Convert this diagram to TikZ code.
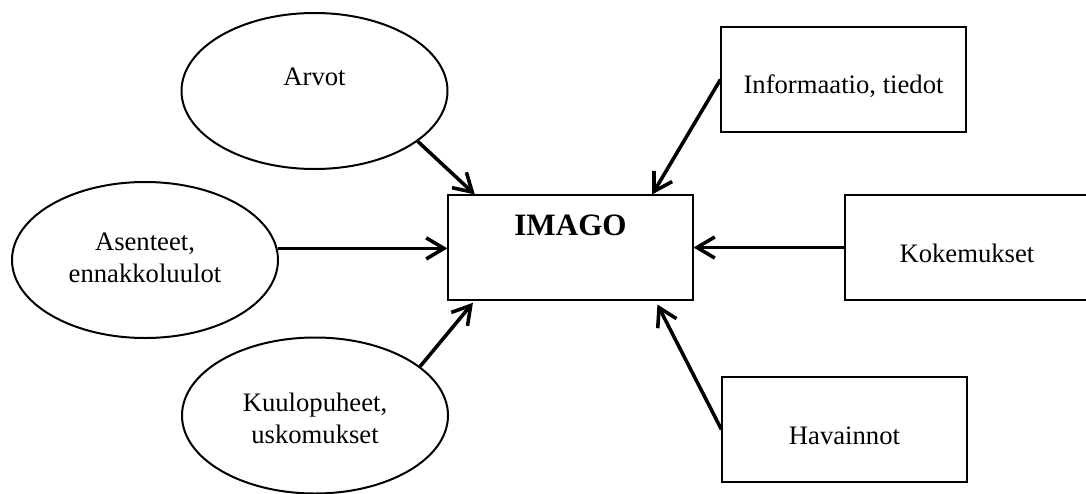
\documentclass[tikz,border=0pt]{standalone}
\usepackage{fontspec}
\setmainfont{Liberation Serif}
\usetikzlibrary{shapes.geometric,arrows.meta}

\begin{document}
\begin{tikzpicture}[x=0.45pt, y=-0.45pt,
        oval/.style={ellipse, draw, line width=0.9pt, minimum width=119.7pt, minimum height=70.2pt, inner sep=0pt},
        box/.style={rectangle, draw, line width=0.5pt, minimum width=110.25pt, minimum height=47.25pt, inner sep=0pt},
        txt/.style={font=\fontsize{12}{14}\selectfont, align=center},
        arr/.style={-{Straight Barb[length=8pt,width=9.5pt]}, line width=1.6pt}]
        \useasboundingbox (0,0) rectangle (1086,493);

        % Ellipses on the left
        \node[oval, label={[txt, yshift=6.3pt]center:Arvot}] (arvot) at (314.5,91) {};
        \node[oval, label={[txt, yshift=1pt]center:Asenteet,\\ennakkoluulot}] (asenteet) at (145,260) {};
        \node[oval, label={[txt, yshift=-1.3pt]center:Kuulopuheet,\\uskomukset}] (kuulo) at (315,415.5) {};

        % Boxes (Kokemukset runs off the right edge)
        \node[box, label={[font=\fontsize{14}{17}\selectfont\bfseries, yshift=10.1pt]center:IMAGO}] (imago) at (570.5,247.5) {};
        \node[box, label={[txt, yshift=-2.9pt]center:Informaatio, tiedot}] (info) at (843.5,79.5) {};
        \node[box, minimum width=114.75pt, label={[txt, xshift=-2.5pt, yshift=-2.7pt]center:Kokemukset}] (koke) at (972.5,247.5) {};
        \node[box, label={[txt, yshift=-2.9pt]center:Havainnot}] (hav) at (844.5,429.5) {};

        % Arrows into IMAGO
        \draw[arr] (arvot.-26) -- (imago.151);
        \draw[arr] (asenteet.5) -- (asenteet.5 -| imago.west);
        \draw[arr, shorten >=1.3pt] (kuulo.25) -- (imago.209);
        \draw[arr] (info.west) -- (imago.33);
        \draw[arr] (koke.west) -- (imago.east);
        \draw[arr, shorten >=2pt] (hav.west) -- (imago.-32);
    \end{tikzpicture}
\end{document}
